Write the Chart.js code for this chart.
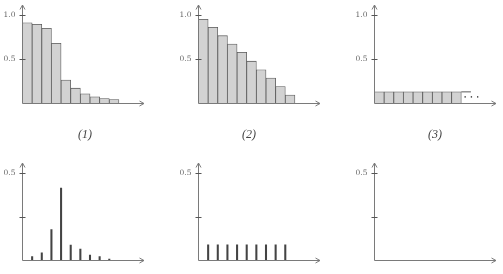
<!DOCTYPE html>
<html>
<head>
<meta charset="utf-8">
<script src="https://cdn.jsdelivr.net/npm/chart.js@4.4.1/dist/chart.umd.min.js"></script>
<style>
  html, body { margin: 0; padding: 0; background: #fff; }
  #wrap { position: relative; width: 503px; height: 274px; overflow: hidden; }
  #wrap canvas { position: absolute; left: 0; top: 0; }
  .cap { position: absolute; top: 127px; line-height: 12px; font: italic 12px "Liberation Serif", serif; color: #444; transform: translateX(-50%); white-space: nowrap; }
</style>
</head>
<body>
<div id="wrap">
  <canvas id="c1" width="503" height="274"></canvas>
  <canvas id="c2" width="503" height="274"></canvas>
  <canvas id="c3" width="503" height="274"></canvas>
  <canvas id="c4" width="503" height="274"></canvas>
  <canvas id="c5" width="503" height="274"></canvas>
  <canvas id="c6" width="503" height="274"></canvas>
  <div class="cap" id="cap1" style="left:85px"></div>
  <div class="cap" id="cap2" style="left:249px"></div>
  <div class="cap" id="cap3" style="left:435px"></div>
</div>
<script>
// ---- data ----
const binMids = [0.5, 1.5, 2.5, 3.5, 4.5, 5.5, 6.5, 7.5, 8.5, 9.5];
const binEdges = [1, 2, 3, 4, 5, 6, 7, 8, 9];

const barsSteep  = [0.916, 0.898, 0.852, 0.682, 0.265, 0.174, 0.110, 0.076, 0.057, 0.045];
const barsLinear = [0.955, 0.864, 0.769, 0.674, 0.580, 0.480, 0.383, 0.288, 0.193, 0.095];
const barsFlat   = [0.132, 0.132, 0.132, 0.132, 0.132, 0.132, 0.132, 0.132, 0.132];
const flatTailX  = [9, 10];
const flatTailY  = [0.132, 0.132];
const dotsX      = [9.4, 10.05, 10.7];
const dotsY      = [0.075, 0.075, 0.075];

const spikesSteep  = [0.023, 0.044, 0.176, 0.414, 0.088, 0.065, 0.031, 0.023, 0.008];
const spikesLinear = [0.089, 0.089, 0.089, 0.089, 0.089, 0.089, 0.089, 0.089, 0.089];

const topTicks = [0.5, 1.0];
const topTickLabels = ["0.5", "1.0"];
const bottomTicks = [0.25, 0.5];
const bottomTickLabels = ["", "0.5"];
const captions = ["(1)", "(2)", "(3)"];

// ---- layout ----
const W = 503, H = 274;
const X_MAX = 12.6;
const TOP_Y_MAX = 1.117;
const BOTTOM_Y_MAX = 0.557;
const COLS = [22.5, 198.5, 374.5];
const PLOT_W = 121.5;
const TOP_ROW = { top: 5, bottom: 103.5 };
const BOTTOM_ROW = { top: 163, bottom: 260.5 };

const BAR_FILL = "#d2d2d2";
const BAR_EDGE = "#5a5a5a";
const AXIS = "#7a7a7a";
const SPIKE = "#444";

/* ---------------- AXES PLUGIN ---------------- */

const axesPlugin = {
  id: "axes",
  afterDatasetsDraw(chart, args, opts) {
    const { ctx, chartArea: a, scales: { x, y } } = chart;
    const x0 = x.getPixelForValue(0);
    const y0 = y.getPixelForValue(0);
    ctx.save();
    ctx.strokeStyle = AXIS;
    ctx.lineWidth = 1;
    ctx.beginPath();
    ctx.moveTo(x0, y0); ctx.lineTo(a.right, y0);
    ctx.moveTo(x0, y0); ctx.lineTo(x0, a.top);
    ctx.stroke();

    // open arrow heads
    ctx.beginPath();
    ctx.moveTo(a.right - 4.5, y0 - 2.5); ctx.lineTo(a.right, y0); ctx.lineTo(a.right - 4.5, y0 + 2.5);
    ctx.moveTo(x0 - 2.5, a.top + 4.5); ctx.lineTo(x0, a.top); ctx.lineTo(x0 + 2.5, a.top + 4.5);
    ctx.stroke();

    // ticks crossing the y axis
    ctx.strokeStyle = "#555";
    ctx.fillStyle = "#666";
    ctx.font = '7.5px "DejaVu Serif", serif';
    ctx.textAlign = "right";
    ctx.textBaseline = "middle";
    opts.ticks.forEach((v, i) => {
      const py = Math.round(y.getPixelForValue(v)) + 0.5;
      ctx.beginPath();
      ctx.moveTo(x0 - 3, py); ctx.lineTo(x0 + 3, py);
      ctx.stroke();
      if (opts.labels[i]) ctx.fillText(opts.labels[i], x0 - 7, py);
    });
    ctx.restore();
  }
};

/* ---------------- CHARTS ---------------- */

function pts(xs, ys) {
  return xs.map((v, i) => ({ x: v, y: ys[i] }));
}

function barSet(values) {
  return {
    type: "bar",
    data: pts(binMids, values),
    backgroundColor: BAR_FILL,
    borderColor: BAR_EDGE,
    borderWidth: 0.8,
    barPercentage: 1,
    categoryPercentage: 1
  };
}

function spikeSet(values) {
  return {
    type: "bar",
    data: pts(binEdges, values),
    backgroundColor: SPIKE,
    borderWidth: 0,
    barThickness: 1.4
  };
}

function makeChart(id, col, row, yMax, datasets, ticks, labels) {
  const left = COLS[col];
  new Chart(document.getElementById(id), {
    type: "bar",
    data: { datasets },
    options: {
      responsive: false,
      animation: false,
      events: [],
      layout: {
        padding: { left, top: row.top, right: W - left - PLOT_W, bottom: H - row.bottom }
      },
      plugins: {
        legend: { display: false },
        tooltip: { enabled: false },
        axes: { ticks, labels }
      },
      scales: {
        x: { type: "linear", min: 0, max: X_MAX, offset: false, display: false, ticks: { stepSize: 1 } },
        y: { type: "linear", min: 0, max: yMax, display: false }
      }
    },
    plugins: [axesPlugin]
  });
}

makeChart("c1", 0, TOP_ROW, TOP_Y_MAX, [barSet(barsSteep)], topTicks, topTickLabels);
makeChart("c2", 1, TOP_ROW, TOP_Y_MAX, [barSet(barsLinear)], topTicks, topTickLabels);
makeChart("c3", 2, TOP_ROW, TOP_Y_MAX, [
  barSet(barsFlat),
  {
    type: "line",
    data: pts(flatTailX, flatTailY),
    borderColor: BAR_EDGE,
    borderWidth: 1,
    pointRadius: 0
  },
  {
    type: "scatter",
    data: pts(dotsX, dotsY),
    backgroundColor: "#444",
    borderWidth: 0,
    pointRadius: 0.8
  }
], topTicks, topTickLabels);

makeChart("c4", 0, BOTTOM_ROW, BOTTOM_Y_MAX, [spikeSet(spikesSteep)], bottomTicks, bottomTickLabels);
makeChart("c5", 1, BOTTOM_ROW, BOTTOM_Y_MAX, [spikeSet(spikesLinear)], bottomTicks, bottomTickLabels);
makeChart("c6", 2, BOTTOM_ROW, BOTTOM_Y_MAX, [], bottomTicks, bottomTickLabels);

captions.forEach((t, i) => {
  document.getElementById("cap" + (i + 1)).textContent = t;
});
</script>
</body>
</html>
